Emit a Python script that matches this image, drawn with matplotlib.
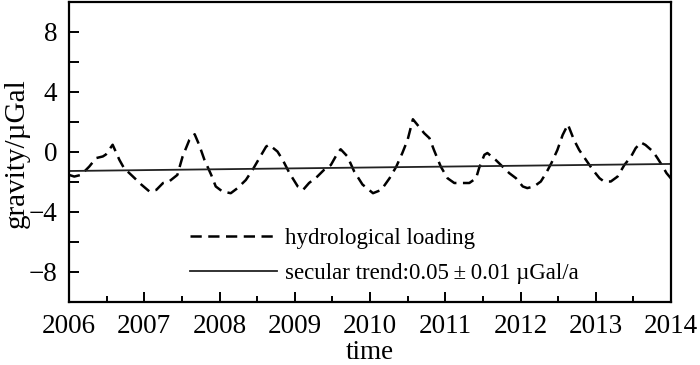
import matplotlib
matplotlib.use("Agg")
import matplotlib.pyplot as plt
from matplotlib.ticker import MultipleLocator

# ---- data ----
years = [2006.00, 2006.07, 2006.16, 2006.27, 2006.36, 2006.45, 2006.49, 2006.58,
         2006.67, 2006.73, 2006.85, 2006.96, 2007.07, 2007.16, 2007.25, 2007.33,
         2007.44, 2007.51, 2007.60, 2007.67, 2007.73, 2007.80, 2007.89, 2007.95,
         2008.04, 2008.15, 2008.24, 2008.35, 2008.44, 2008.53, 2008.62, 2008.66,
         2008.77, 2008.84, 2008.93, 2009.04, 2009.11, 2009.19, 2009.30, 2009.39,
         2009.48, 2009.57, 2009.61, 2009.70, 2009.79, 2009.90, 2010.04, 2010.15,
         2010.26, 2010.35, 2010.43, 2010.50, 2010.57, 2010.63, 2010.72, 2010.79,
         2010.85, 2010.94, 2011.03, 2011.12, 2011.23, 2011.32, 2011.41, 2011.45,
         2011.52, 2011.56, 2011.67, 2011.76, 2011.85, 2011.94, 2012.03, 2012.09,
         2012.18, 2012.27, 2012.34, 2012.41, 2012.49, 2012.56, 2012.63, 2012.71,
         2012.78, 2012.87, 2012.96, 2013.05, 2013.11, 2013.20, 2013.29, 2013.38,
         2013.47, 2013.53, 2013.60, 2013.66, 2013.76, 2013.82, 2013.89, 2013.94,
         2014.00]
hydro = [-1.56, -1.67, -1.56, -1.00, -0.44, -0.33, -0.20, 0.45,
         -0.56, -1.10, -1.67, -2.20, -2.67, -2.56, -2.10, -2.00,
         -1.56, -0.33, 0.78, 1.15, 0.44, -0.56, -1.56, -2.33,
         -2.67, -2.78, -2.44, -1.90, -1.22, -0.44, 0.33, 0.45,
         0.00, -0.56, -1.44, -2.33, -2.56, -2.10, -1.67, -1.22,
         -0.90, -0.10, 0.15, -0.33, -1.33, -2.20, -2.78, -2.56,
         -1.78, -1.00, -0.10, 0.78, 2.15, 1.78, 1.22, 0.89,
         0.10, -1.00, -1.78, -2.10, -2.10, -2.10, -1.78, -1.10,
         -0.22, -0.10, -0.56, -1.00, -1.44, -1.78, -2.33, -2.44,
         -2.33, -2.00, -1.44, -0.78, 0.10, 1.10, 1.80, 0.78,
         0.10, -0.56, -1.22, -1.78, -2.00, -2.00, -1.67, -0.90,
         -0.33, 0.22, 0.60, 0.44, 0.00, -0.44, -1.00, -1.44,
         -1.80]
trend_years = [2006.0, 2014.0]
trend_values = [-1.30, -0.83]

x_ticks = [2006, 2007, 2008, 2009, 2010, 2011, 2012, 2013, 2014]
y_ticks = [-8, -4, 0, 4, 8]

label_hydro = "hydrological loading"
label_trend = "secular trend:0.05\u2009\u00b1\u20090.01 \u00b5Gal/a"

plt.rcParams['font.family'] = ['Liberation Serif', 'DejaVu Serif']

fig = plt.figure(figsize=(7.0, 3.65), dpi=100)
ax = fig.add_axes([69/700, 1 - 301.5/365, 602/700, 300/365])

ax.plot(years, hydro, color='black', lw=1.8, linestyle=(0, (4.5, 2.6)),
        label=label_hydro)
ax.plot(trend_years, trend_values, color='#222222', lw=1.3, label=label_trend)

ax.set_xlim(2006, 2014)
ax.set_ylim(-10, 10)
ax.set_xticks(x_ticks)
ax.set_yticks(y_ticks)
ax.set_yticklabels([f"{v}".replace('-', '\u2212') for v in y_ticks])
ax.xaxis.set_minor_locator(MultipleLocator(0.5))
ax.yaxis.set_minor_locator(MultipleLocator(2))

for s in ax.spines.values():
    s.set_linewidth(1.6)
ax.tick_params(axis='both', which='both', direction='in', width=1.4,
               labelsize=19.5, top=False, right=False)
ax.tick_params(axis='x', which='major', length=7.5, pad=9)
ax.tick_params(axis='x', which='minor', length=4)
ax.tick_params(axis='y', which='major', length=7.5, pad=8.5)
ax.tick_params(axis='y', which='minor', length=7.5)

fig.text(370/700, 0.0, "time", ha='center', va='bottom', fontsize=19.5)
fig.text(17/700, 1 - 153/365, "gravity/\u00b5Gal", rotation=90,
         ha='center', va='center', fontsize=21)

leg = ax.legend(loc='upper left', bbox_to_anchor=((190 - 69)/602, (301.5 - 228)/300),
                frameon=False, fontsize=16.5, handlelength=3.8, handletextpad=0.35,
                borderpad=0, borderaxespad=0, labelspacing=0.6)

fig.savefig("out.png", dpi=100)
